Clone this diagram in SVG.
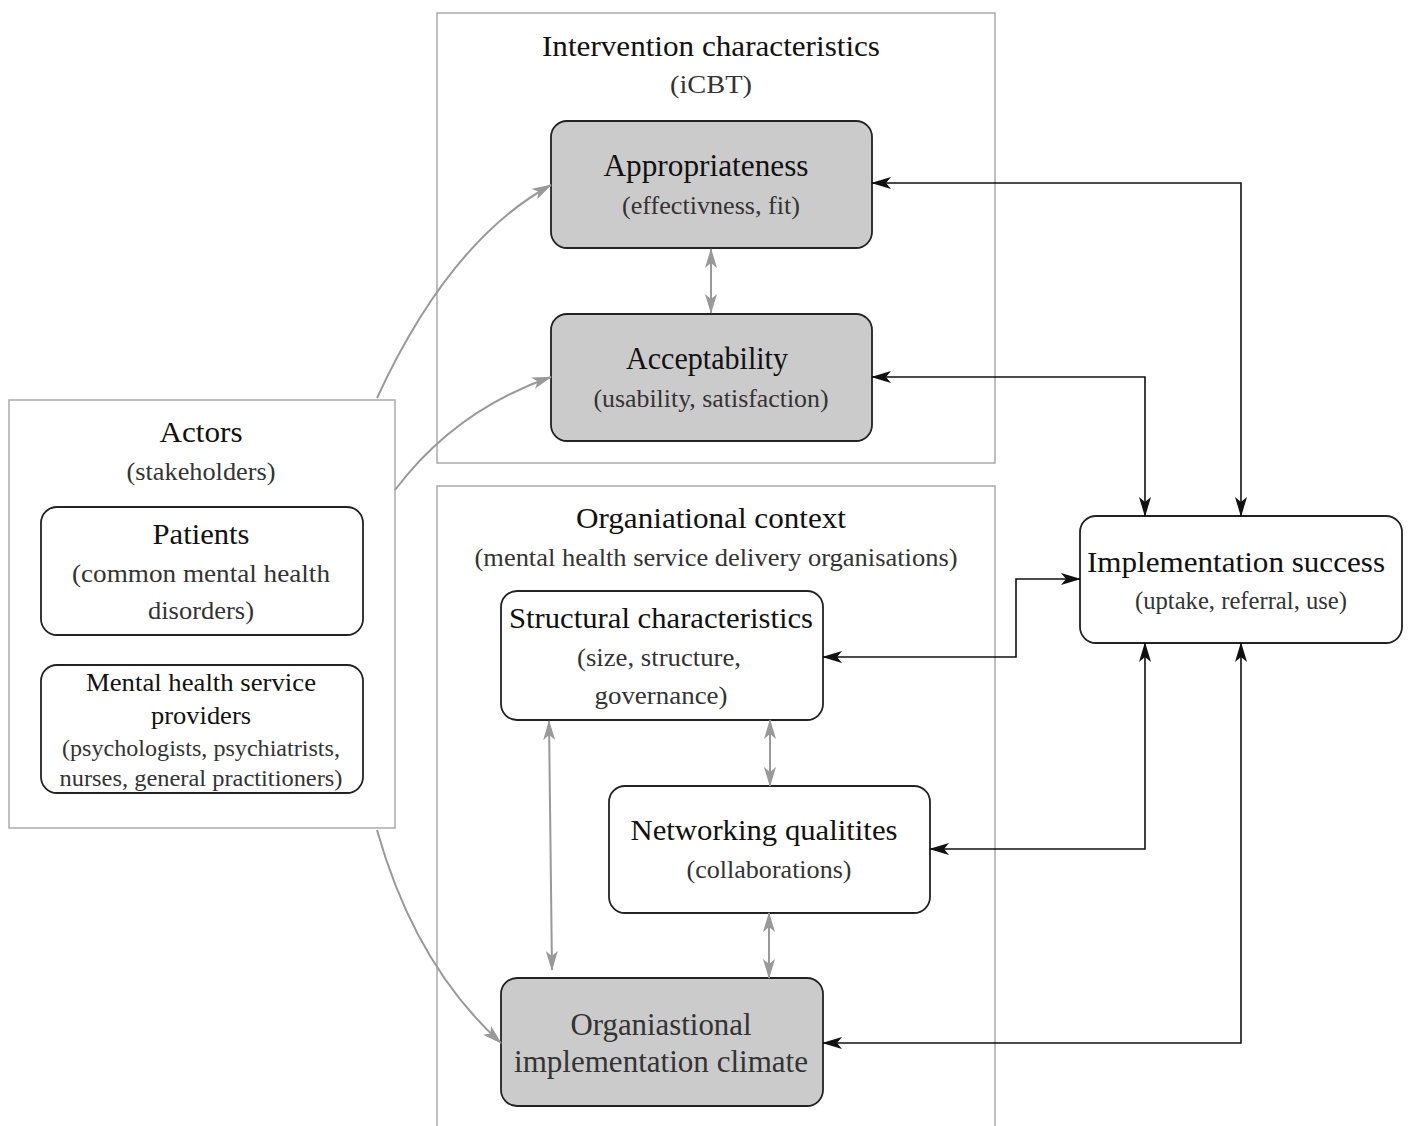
<svg xmlns="http://www.w3.org/2000/svg" width="1413" height="1126" viewBox="0 0 1413 1126">
<defs>
<marker id="ab" viewBox="0 0 20 12" refX="19" refY="6" markerWidth="20" markerHeight="12" markerUnits="userSpaceOnUse" orient="auto-start-reverse"><path d="M0,0 L20,6 L0,12 L5,6 Z" fill="#111"/></marker>
<marker id="ag" viewBox="0 0 20 12" refX="19" refY="6" markerWidth="20" markerHeight="12" markerUnits="userSpaceOnUse" orient="auto-start-reverse"><path d="M0,0 L20,6 L0,12 L5,6 Z" fill="#999"/></marker>
</defs>
<style>
.frame{fill:#fff;stroke:#aaa;stroke-width:1.5}
.node{fill:#fff;stroke:#222;stroke-width:1.8}
.grey{fill:#cbcbcb;stroke:#222;stroke-width:1.8}
text{font-family:"Liberation Serif","Times New Roman",serif;text-anchor:middle}
.t{font-size:30px;fill:#111}
.s{font-size:25px;fill:#333}
.cb{fill:none;stroke:#111;stroke-width:1.6}
.cg{fill:none;stroke:#999;stroke-width:2}
</style>
<rect width="1413" height="1126" fill="#fff"/>
<g id="intervention">
<rect class="frame" x="437" y="13" width="558" height="450"/>
<text class="t" x="711" y="56" textLength="338" lengthAdjust="spacingAndGlyphs">Intervention characteristics</text>
<text class="s" x="711" y="93" textLength="82" lengthAdjust="spacingAndGlyphs">(iCBT)</text>
</g>
<g id="organisational">
<rect class="frame" x="437" y="486" width="558" height="660"/>
<text class="t" x="711" y="528" textLength="270" lengthAdjust="spacingAndGlyphs">Organiational context</text>
<text class="s" x="716" y="566" textLength="483" lengthAdjust="spacingAndGlyphs">(mental health service delivery organisations)</text>
</g>
<g id="actors">
<rect class="frame" x="9" y="400" width="386" height="428"/>
<text class="t" x="201" y="442" textLength="83" lengthAdjust="spacingAndGlyphs">Actors</text>
<text class="s" x="201" y="480" textLength="149" lengthAdjust="spacingAndGlyphs">(stakeholders)</text>
</g>
<g id="patients">
<rect class="node" x="41" y="507" width="322" height="128" rx="16"/>
<text class="t" x="201" y="544" textLength="97" lengthAdjust="spacingAndGlyphs">Patients</text>
<text class="s" x="201" y="582" textLength="258" lengthAdjust="spacingAndGlyphs">(common mental health</text>
<text class="s" x="201" y="619" textLength="106" lengthAdjust="spacingAndGlyphs">disorders)</text>
</g>
<g id="providers">
<rect class="node" x="41" y="665" width="322" height="128" rx="16"/>
<text class="t" x="201" y="691" style="font-size:26px" textLength="230" lengthAdjust="spacingAndGlyphs">Mental health service</text>
<text class="t" x="201" y="724" style="font-size:26px" textLength="100" lengthAdjust="spacingAndGlyphs">providers</text>
<text class="s" x="201" y="756" style="font-size:23px" textLength="278" lengthAdjust="spacingAndGlyphs">(psychologists, psychiatrists,</text>
<text class="s" x="201" y="786" style="font-size:23px" textLength="283" lengthAdjust="spacingAndGlyphs">nurses, general practitioners)</text>
</g>
<g id="appropriateness">
<rect class="grey" x="551" y="121" width="321" height="127" rx="16"/>
<text class="t" x="706" y="176" style="font-size:31px" textLength="205" lengthAdjust="spacingAndGlyphs">Appropriateness</text>
<text class="s" x="711" y="214" textLength="178" lengthAdjust="spacingAndGlyphs">(effectivness, fit)</text>
</g>
<g id="acceptability">
<rect class="grey" x="551" y="314" width="321" height="127" rx="16"/>
<text class="t" x="707" y="369" style="font-size:31px" textLength="162" lengthAdjust="spacingAndGlyphs">Acceptability</text>
<text class="s" x="711" y="407" textLength="235" lengthAdjust="spacingAndGlyphs">(usability, satisfaction)</text>
</g>
<g id="structural">
<rect class="node" x="501" y="591" width="322" height="129" rx="16"/>
<text class="t" x="661" y="628" textLength="304" lengthAdjust="spacingAndGlyphs">Structural characteristics</text>
<text class="s" x="659" y="666" textLength="164" lengthAdjust="spacingAndGlyphs">(size, structure,</text>
<text class="s" x="661" y="704" textLength="133" lengthAdjust="spacingAndGlyphs">governance)</text>
</g>
<g id="networking">
<rect class="node" x="609" y="786" width="321" height="127" rx="16"/>
<text class="t" x="764" y="840" textLength="267" lengthAdjust="spacingAndGlyphs">Networking qualitites</text>
<text class="s" x="769" y="878" textLength="165" lengthAdjust="spacingAndGlyphs">(collaborations)</text>
</g>
<g id="climate">
<rect class="grey" x="501" y="978" width="322" height="128" rx="16"/>
<text class="t" x="661" y="1035" style="fill:#333;font-size:31px" textLength="181" lengthAdjust="spacingAndGlyphs">Organiastional</text>
<text class="t" x="661" y="1072" style="fill:#333;font-size:31px" textLength="294" lengthAdjust="spacingAndGlyphs">implementation climate</text>
</g>
<g id="implementation">
<rect class="node" x="1080" y="516" width="322" height="127" rx="16"/>
<text class="t" x="1236" y="572" textLength="298" lengthAdjust="spacingAndGlyphs">Implementation success</text>
<text class="s" x="1241" y="609" textLength="212" lengthAdjust="spacingAndGlyphs">(uptake, referral, use)</text>
</g>
<g id="connectors">
<path class="cb" d="M872,183 H1241 V516" marker-start="url(#ab)" marker-end="url(#ab)"/>
<path class="cb" d="M872,377 H1145 V516" marker-start="url(#ab)" marker-end="url(#ab)"/>
<path class="cb" d="M823,657 H1016 V579 H1080" marker-start="url(#ab)" marker-end="url(#ab)"/>
<path class="cb" d="M930,849 H1145 V643" marker-start="url(#ab)" marker-end="url(#ab)"/>
<path class="cb" d="M823,1043 H1241 V643" marker-start="url(#ab)" marker-end="url(#ab)"/>
<path class="cg" d="M711,249 V313" marker-start="url(#ag)" marker-end="url(#ag)"/>
<path class="cg" d="M770,720 V786" marker-start="url(#ag)" marker-end="url(#ag)"/>
<path class="cg" d="M769,913 V978" marker-start="url(#ag)" marker-end="url(#ag)"/>
<path class="cg" d="M549,721 L552,970" marker-start="url(#ag)" marker-end="url(#ag)"/>
<path class="cg" d="M377,398 Q450,240 551,185" marker-end="url(#ag)"/>
<path class="cg" d="M395,490 Q455,410 551,377" marker-end="url(#ag)"/>
<path class="cg" d="M377,830 Q415,965 501,1043" marker-end="url(#ag)"/>
</g>
</svg>
